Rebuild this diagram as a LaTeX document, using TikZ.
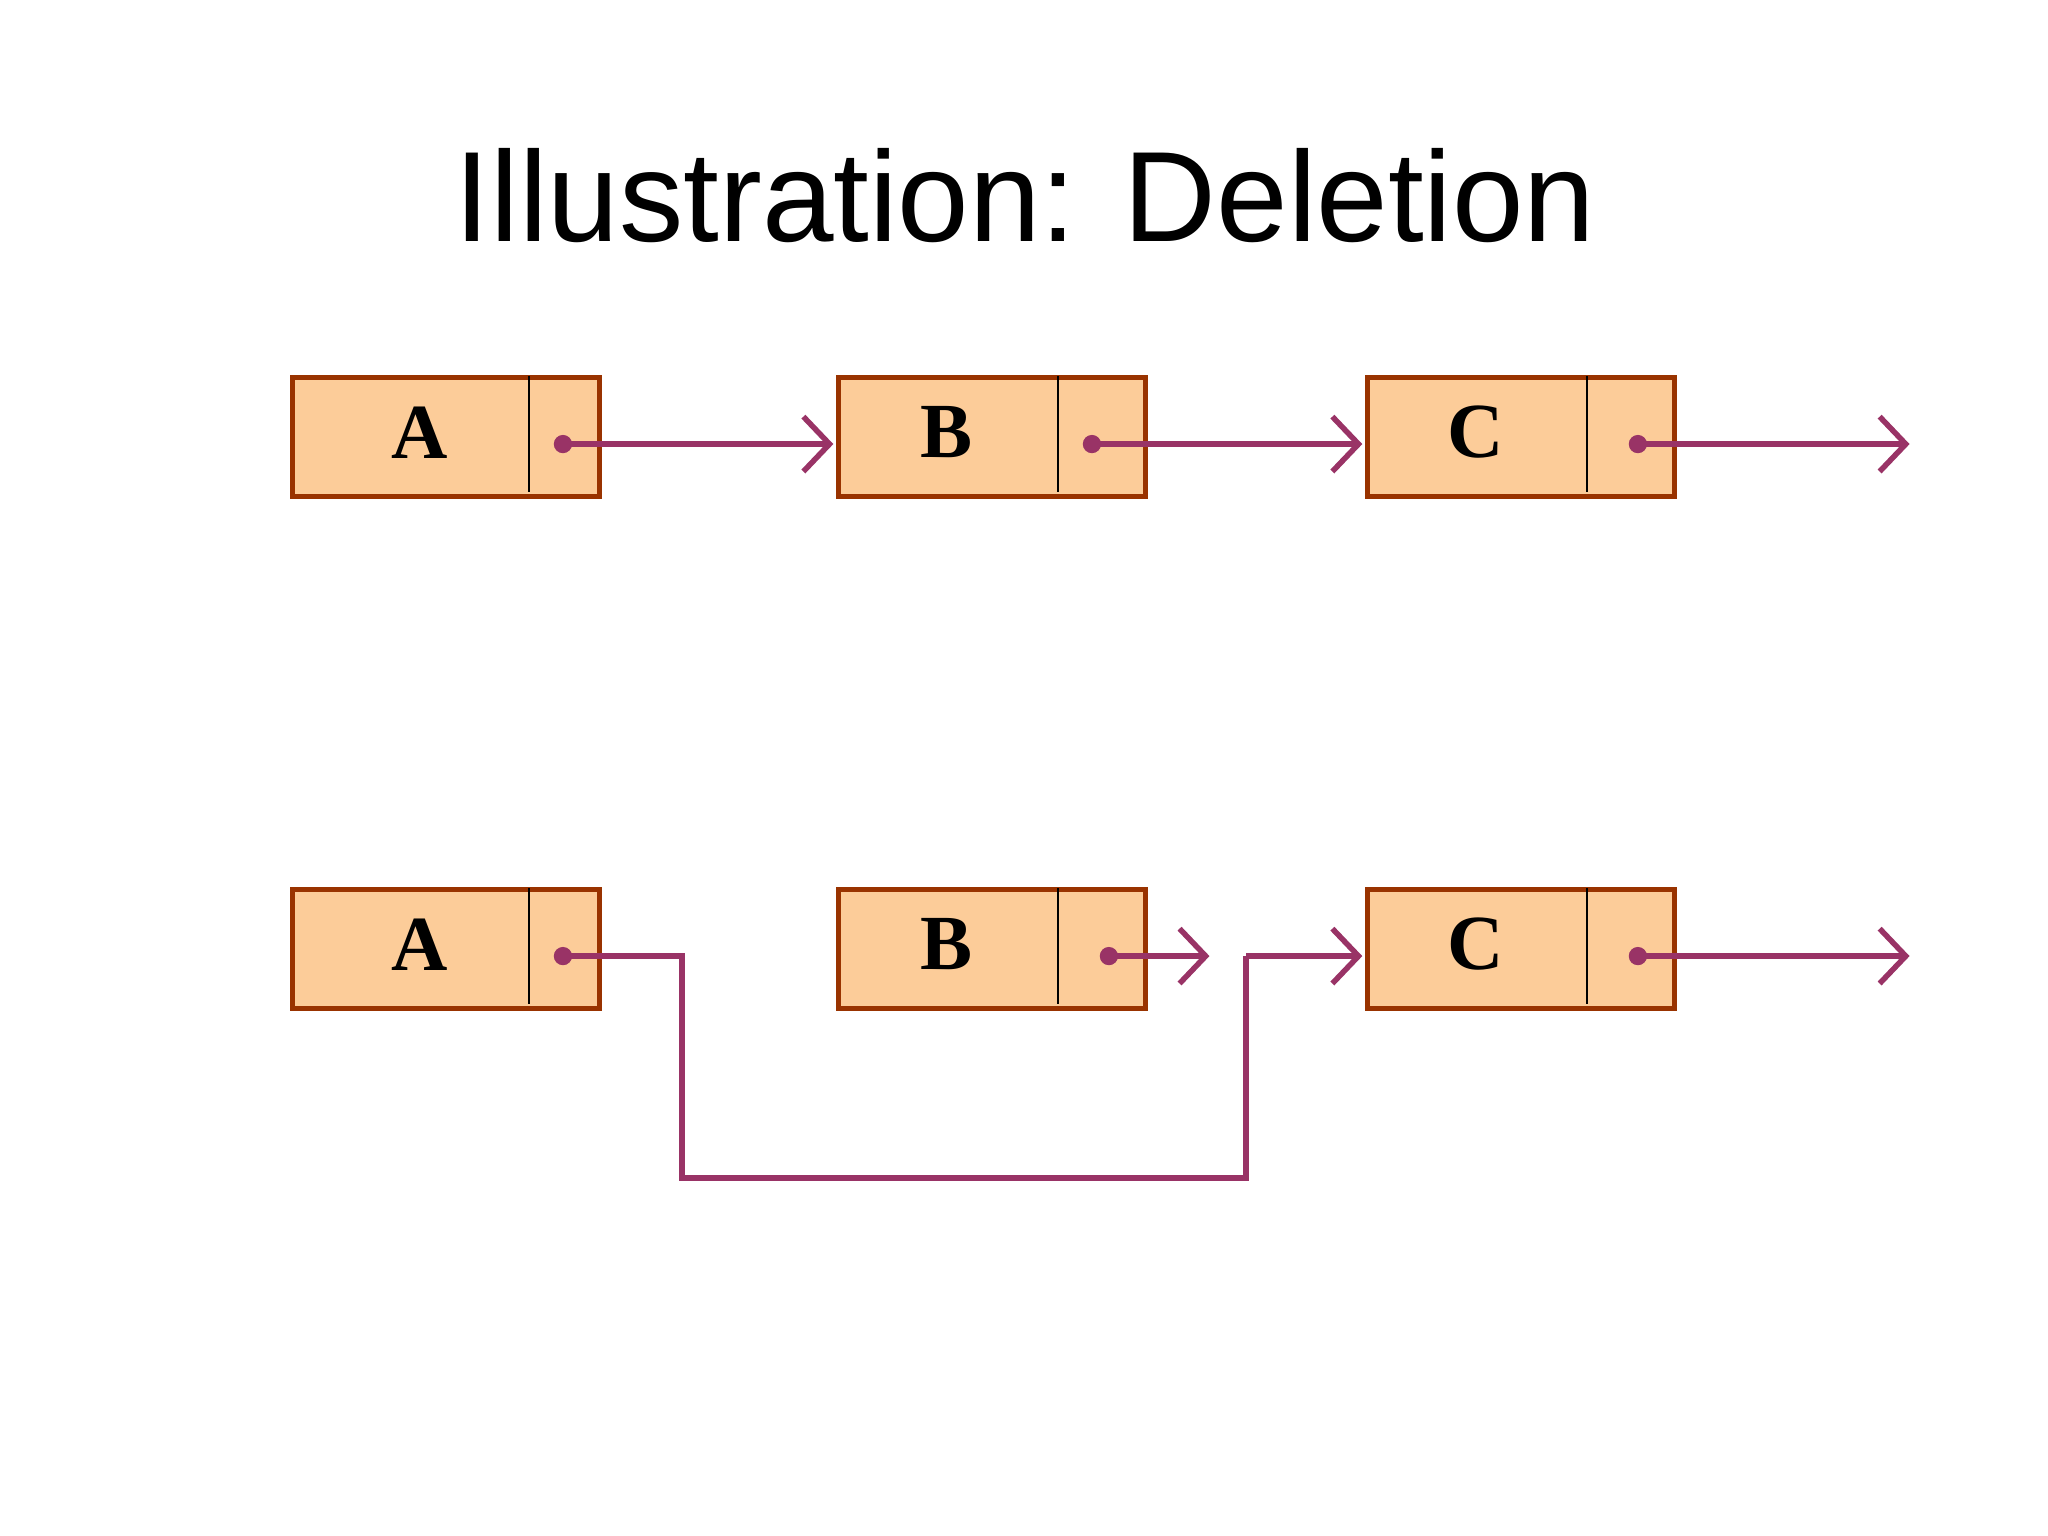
\documentclass[tikz,border=0pt]{standalone}
\usepackage{fontspec}
\setmainfont{Liberation Serif}
\newfontfamily\titlefont{Liberation Sans}
\usetikzlibrary{arrows.meta}
\definecolor{boxfill}{HTML}{FCCC99}
\definecolor{boxline}{HTML}{993300}
\definecolor{arr}{HTML}{993366}
\tikzset{
 cell/.style={draw=boxline,fill=boxfill,line width=1.2pt,minimum height=0.91cm,inner sep=0,font=\bfseries\fontsize{17}{20}\selectfont},
 ptr/.style={draw=arr,line width=1.2pt,-{Straight Barb[length=2mm,width=4.2mm,line width=1.2pt]}},
 seg/.style={draw=arr,line width=1.2pt},
 dot/.style={circle,fill=arr,inner sep=0,minimum size=1.4mm}
}
\begin{document}
\begin{tikzpicture}[y=-1cm]
\useasboundingbox (0,0) rectangle (15.68,11.76);
\node[font=\titlefont\fontsize{28}{32}\selectfont] (title) at (7.85,1.5) {Illustration: Deletion};
% row 1
\foreach \n/\x/\l in {A/2.22/A,B/6.40/B,C/10.45/C}{
 \node[cell,minimum width=2.35cm,anchor=north west] (\n1) at (\x,2.87) {};
 \node[cell,minimum width=2.35cm,anchor=north west] (\n2) at (\x,6.79) {};
}
\foreach \n/\dx in {A/4.05,B/8.10,C/12.15}{
 \draw[black,line width=0.6pt] (\dx,2.88) -- (\dx,3.77);
 \draw[black,line width=0.6pt] (\dx,6.80) -- (\dx,7.69);
}
\node[font=\bfseries\fontsize{17}{20}\selectfont] (la1) at (3.21,3.31) {A};
\node[font=\bfseries\fontsize{17}{20}\selectfont] (lb1) at (7.25,3.31) {B};
\node[font=\bfseries\fontsize{17}{20}\selectfont] (lc1) at (13.30,3.31) {};
\node[font=\bfseries\fontsize{17}{20}\selectfont] (lc1) at (11.30,3.31) {C};
\node[font=\bfseries\fontsize{17}{20}\selectfont] (la2) at (3.21,7.23) {A};
\node[font=\bfseries\fontsize{17}{20}\selectfont] (lb2) at (7.25,7.23) {B};
\node[font=\bfseries\fontsize{17}{20}\selectfont] (lc2) at (11.30,7.23) {C};
% row 1 pointers
\node[dot] (pa1) at (4.31,3.40) {};
\node[dot] (pb1) at (8.36,3.40) {};
\node[dot] (pc1) at (12.54,3.40) {};
\coordinate (tb1) at (6.38,3.40);
\coordinate (tc1) at (10.43,3.40);
\coordinate (end1) at (14.62,3.40);
\draw[ptr] (pa1.center) -- (tb1);
\draw[ptr] (pb1.center) -- (tc1);
\draw[ptr] (pc1.center) -- (end1);
% row 2
\node[dot] (pa2) at (4.31,7.32) {};
\node[dot] (pb2) at (8.49,7.32) {};
\node[dot] (pc2) at (12.54,7.32) {};
\coordinate (bend) at (9.26,7.32);
\coordinate (k1) at (5.22,7.32);
\coordinate (k2) at (5.22,9.02);
\coordinate (k3) at (9.54,9.02);
\coordinate (k4) at (9.54,7.32);
\coordinate (tc2) at (10.43,7.32);
\coordinate (end2) at (14.62,7.32);
\draw[seg] (pa2.center) -- (k1) -- (k2) -- (k3) -- (k4);
\draw[ptr] (k4) -- (tc2);
\draw[ptr] (pb2.center) -- (bend);
\draw[ptr] (pc2.center) -- (end2);
\end{tikzpicture}
\end{document}
